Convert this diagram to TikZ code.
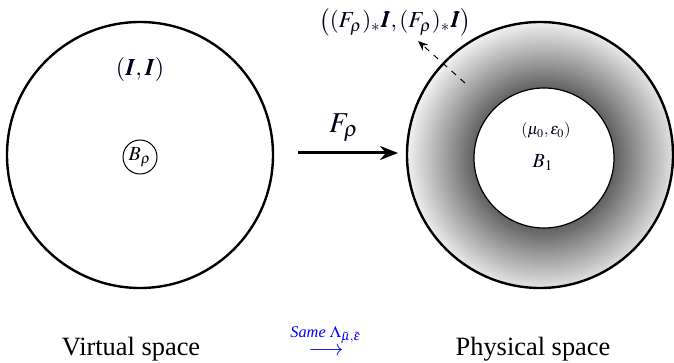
\documentclass[tikz,border=0pt]{standalone}
\usepackage{amsmath,amssymb}
\usepackage{mathptmx}
\usepackage{bm}
\usepackage{fontspec}
\setmainfont{Liberation Serif}
\usetikzlibrary{arrows.meta}
\pgfdeclareradialshading{ringshade}{\pgfpoint{0bp}{0bp}}{%
  color(0bp)=(black!62);
  color(12.5bp)=(black!62);
  color(16bp)=(black!45);
  color(25bp)=(black!3);
  color(50bp)=(black!3)}
\tikzset{
  bigcirc/.style={draw, line width=1.2pt},
  lbl/.style={inner sep=1pt, text=black!90!blue},
  dasharrow/.style={-{Stealth[length=5pt,width=4pt]}, dashed, line width=0.5pt},
  mainarrow/.style={-{Stealth[length=9pt,width=7pt]}, line width=1.5pt}
}
\begin{document}
\begin{tikzpicture}[x=0.5pt,y=-0.5pt]
\useasboundingbox (0,0) rectangle (674,363);
% left circle
\node[bigcirc, circle, minimum size=266*0.5pt, inner sep=0] (L) at (140,155) {};
\node[lbl, font=\large] (II) at (140,70) {$(\bm{I},\bm{I})$};
\node[draw, circle, line width=0.5pt, minimum size=34*0.5pt, inner sep=0] (Brho) at (140,157) {$B_\rho$};
% right circle with shading
\begin{scope}
\clip (540,155) circle[radius=133*0.5pt];
\shade[shading=ringshade] (544,158) circle[radius=140*0.5pt];
\end{scope}
\node[bigcirc, circle, minimum size=266*0.5pt, inner sep=0] (R) at (540,155) {};
\node[draw, fill=white, circle, line width=0.6pt, minimum size=140*0.5pt, inner sep=0] (B1c) at (544,158) {};
\node[lbl, font=\footnotesize] (mu) at (546,131) {$(\mu_0,\varepsilon_0)$};
\node[lbl] (B1) at (543,163) {$B_1$};
% F_rho arrow
\coordinate (fa) at (298,153);
\coordinate (fb) at (398,153);
\draw[mainarrow] (fa) -- (fb);
\node[lbl, font=\Large] (Frho) at (344,128) {$F_\rho$};
% dashed arrow
\coordinate (da) at (465,83);
\coordinate (db) at (418,41);
\draw[dasharrow] (da) -- (db);
\node[lbl, font=\fontsize{11.5}{13}\selectfont, inner sep=0pt] (push) at (395,22) {$\bigl((F_\rho)_*\bm{I},(F_\rho)_*\bm{I}\bigr)$};
% bottom labels
\node[font=\fontsize{13.2}{15}\selectfont] (vs) at (131,349) {Virtual space};
\node[font=\fontsize{13.2}{15}\selectfont] (ps) at (533,349) {Physical space};
\node[text=blue, font=\fontsize{11}{13}\selectfont, inner sep=0pt] (same) at (326,340) {$\overset{\textit{Same }\Lambda_{\tilde\mu,\tilde\varepsilon}\rule[-4pt]{0pt}{0pt}}{\longrightarrow}$};
\end{tikzpicture}
\end{document}
